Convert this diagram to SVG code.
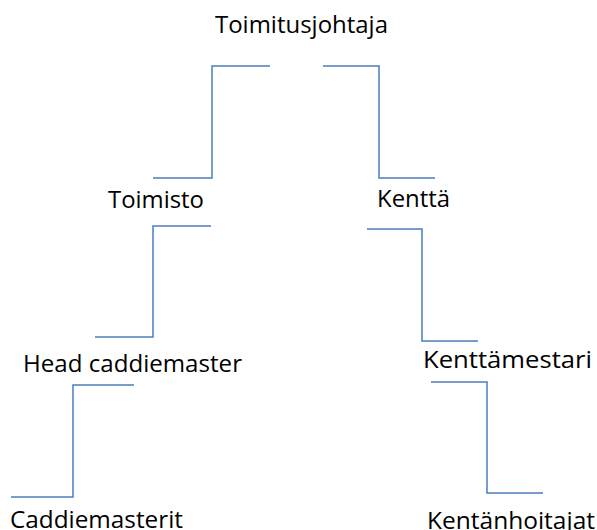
<svg xmlns="http://www.w3.org/2000/svg" width="597" height="530" viewBox="0 0 597 530">
<style>
.t{font-family:"Open Sans","Noto Sans",sans-serif;font-size:23px;fill:#000}
.c{fill:none;stroke:#4A7EBB;stroke-width:1.5}
</style>
<rect width="597" height="530" fill="#fff"/>
<g id="connectors">
<polyline class="c" points="270,66 212,66 212,178 153,178"/>
<polyline class="c" points="323,66 379,66 379,178 435,178"/>
<polyline class="c" points="211,226 153,226 153,337 95,337"/>
<polyline class="c" points="367,229 422,229 422,341 478,341"/>
<polyline class="c" points="134,385 73,385 73,497 11,497"/>
<polyline class="c" points="431,382 487,382 487,493 543,493"/>
</g>
<g id="toimitusjohtaja"><text class="t" x="215" y="33" textLength="173" lengthAdjust="spacingAndGlyphs">Toimitusjohtaja</text></g>
<g id="toimisto"><text class="t" x="108" y="208" textLength="96" lengthAdjust="spacingAndGlyphs">Toimisto</text></g>
<g id="kentta"><text class="t" x="377" y="207" textLength="73" lengthAdjust="spacingAndGlyphs">Kenttä</text></g>
<g id="head-caddiemaster"><text class="t" x="23" y="372" textLength="219" lengthAdjust="spacingAndGlyphs">Head caddiemaster</text></g>
<g id="kenttamestari"><text class="t" x="423" y="368" textLength="169" lengthAdjust="spacingAndGlyphs">Kenttämestari</text></g>
<g id="caddiemasterit"><text class="t" x="10" y="528" textLength="173" lengthAdjust="spacingAndGlyphs">Caddiemasterit</text></g>
<g id="kentanhoitajat"><text class="t" x="427" y="529" textLength="168" lengthAdjust="spacingAndGlyphs">Kentänhoitajat</text></g>
</svg>
